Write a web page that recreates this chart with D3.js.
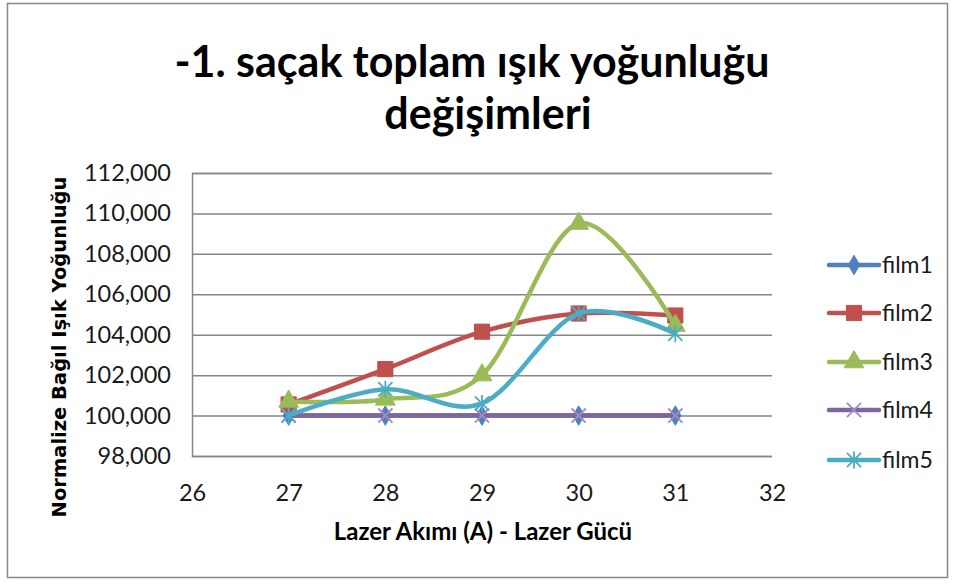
<!DOCTYPE html>
<html><head><meta charset="utf-8">
<script src="https://cdn.jsdelivr.net/npm/d3@7"></script>
<style>html,body{margin:0;padding:0;background:#fff;}svg{display:block;}</style>
</head><body>
<svg id="chart" width="954" height="584"></svg>
<script>
const titleLines = ["-1. saçak toplam ışık yoğunluğu", "değişimleri"];
const xLabel = "Lazer Akımı (A) - Lazer Gücü";
const yLabel = "Normalize Bağıl Işık Yoğunluğu";
const xValues = [27, 28, 29, 30, 31];
const xTicks = [26, 27, 28, 29, 30, 31, 32];
const yTicks = [98000, 100000, 102000, 104000, 106000, 108000, 110000, 112000];
const seriesNames = ["film1", "film2", "film3", "film4", "film5"];
const film1 = [100000, 100000, 100000, 100000, 100000];
const film2 = [100550, 102300, 104150, 105050, 104950];
const film3 = [100700, 100800, 102000, 109500, 104450];
const film4 = [100000, 100000, 100000, 100000, 100000];
const film5 = [100000, 101300, 100600, 105050, 104050];
const colors = ["#4F81BD", "#C0504D", "#9BBB59", "#8064A2", "#4BACC6"];

const seriesValues = [film1, film2, film3, film4, film5];
const svg = d3.select("#chart");
const FONT = "Lato, 'Open Sans', sans-serif";

// outer frame
svg.append("rect").attr("x", 7.5).attr("y", 3.5).attr("width", 940).attr("height", 574)
  .attr("fill", "#fff").attr("stroke", "#878787").attr("stroke-width", 1.5);

const plot = {left: 192, right: 772, top: 173, bottom: 456};
const x = d3.scaleLinear().domain([26, 32]).range([plot.left, plot.right]);
const y = d3.scaleLinear().domain([98000, 112000]).range([plot.bottom, plot.top]);

// title
svg.append("text").attr("x", 472).attr("y", 77).attr("text-anchor", "middle")
  .attr("font-family", FONT).attr("font-weight", "bold").attr("font-size", 43).attr("fill", "#000")
  .text(titleLines[0]);
svg.append("text").attr("x", 488).attr("y", 129).attr("text-anchor", "middle")
  .attr("font-family", FONT).attr("font-weight", "bold").attr("font-size", 43).attr("fill", "#000")
  .text(titleLines[1]);

// gridlines + y axis
const yAxis = d3.axisLeft(y).tickValues(yTicks).tickSize(-(plot.right - plot.left)).tickPadding(20)
  .tickFormat(d3.format(","));
const gy = svg.append("g").attr("transform", `translate(${plot.left},0)`).call(yAxis);
gy.select(".domain").attr("stroke", "#868686").attr("stroke-width", 1.5);
gy.selectAll(".tick line").attr("stroke", "#868686").attr("stroke-width", 1.5);
gy.selectAll(".tick text").attr("font-family", FONT).attr("font-size", 23.5).attr("fill", "#1a1a1a")
  .attr("x", -21);

const xAxis = d3.axisBottom(x).tickValues(xTicks).tickSize(0).tickPadding(28).tickFormat(d3.format("d"));
const gx = svg.append("g").attr("transform", `translate(0,${plot.bottom})`).call(xAxis);
gx.select(".domain").remove();
gx.selectAll(".tick text").attr("font-family", FONT).attr("font-size", 23.5).attr("fill", "#1a1a1a");

// axis titles
svg.append("text").attr("x", 483).attr("y", 540).attr("text-anchor", "middle")
  .attr("font-family", FONT).attr("font-weight", "bold").attr("font-size", 24).attr("fill", "#000")
  .text(xLabel);
svg.append("text").attr("transform", "translate(66,347) rotate(-90)").attr("text-anchor", "middle")
  .attr("font-family", "'DejaVu Sans', sans-serif").attr("font-weight", "bold").attr("font-size", 19.5).attr("fill", "#000")
  .text(yLabel);

// marker types
const xMark = {draw(ctx, size) { const r = Math.sqrt(size) / 2;
  ctx.moveTo(-r, -r); ctx.lineTo(r, r); ctx.moveTo(-r, r); ctx.lineTo(r, -r); }};
const starMark = {draw(ctx, size) { const r = Math.sqrt(size) / 2;
  ctx.moveTo(-r, -r); ctx.lineTo(r, r); ctx.moveTo(-r, r); ctx.lineTo(r, -r);
  ctx.moveTo(0, -r * 1.2); ctx.lineTo(0, r * 1.2); }};
const markers = [
  {type: d3.symbolDiamond, size: 110, fill: true},
  {type: d3.symbolSquare, size: 230, fill: true},
  {type: d3.symbolTriangle, size: 170, fill: true},
  {type: xMark, size: 200, fill: false, stroke: "#9F8CC2"},
  {type: starMark, size: 200, fill: false, stroke: "#4BACC6"}
];

const line = d3.line().x((d, i) => x(xValues[i])).y(d => y(d)).curve(d3.curveCardinal.tension(0));

function drawMarker(g, m, color, px, py) {
  const p = g.append("path").attr("d", d3.symbol().type(m.type).size(m.size)())
    .attr("transform", `translate(${px},${py})`);
  if (m.fill) p.attr("fill", color).attr("stroke", color).attr("stroke-width", 1);
  else p.attr("fill", "none").attr("stroke", m.stroke).attr("stroke-width", 1.8);
}

seriesValues.forEach((vals, si) => {
  const g = svg.append("g");
  g.append("path").datum(vals).attr("d", line).attr("fill", "none")
    .attr("stroke", colors[si]).attr("stroke-width", 4.5).attr("stroke-linecap", "round");
  vals.forEach((v, i) => drawMarker(g, markers[si], colors[si], x(xValues[i]), y(v)));
});

// legend
const legY = [265, 313, 362, 410, 460];
seriesNames.forEach((name, si) => {
  const g = svg.append("g");
  g.append("line").attr("x1", 829).attr("x2", 879).attr("y1", legY[si]).attr("y2", legY[si])
    .attr("stroke", colors[si]).attr("stroke-width", 4.5).attr("stroke-linecap", "round");
  drawMarker(g, markers[si], colors[si], 854, legY[si]);
  g.append("text").attr("x", 882).attr("y", legY[si]).attr("dy", "0.35em")
    .attr("font-family", FONT).attr("font-size", 23).attr("fill", "#1a1a1a").text(name);
});
</script>
</body></html>
